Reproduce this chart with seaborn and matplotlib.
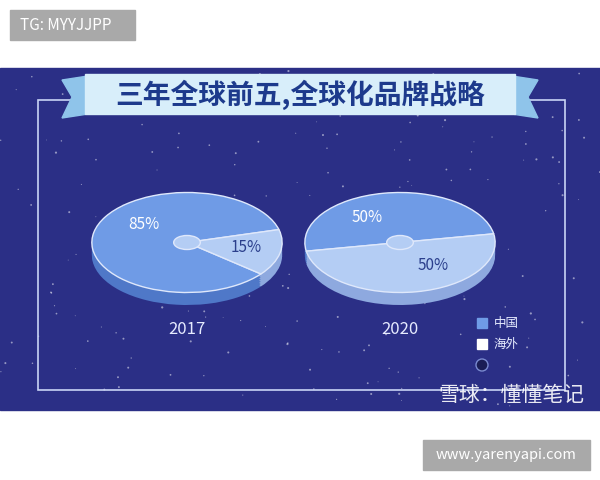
import numpy as np
import matplotlib
matplotlib.use("Agg")
import matplotlib.pyplot as plt
import seaborn as sns
from matplotlib.patches import Rectangle, Polygon, Ellipse

sns.set_theme(style="white")
plt.rcParams['font.family'] = ['Noto Sans CJK SC', 'DejaVu Sans']

# chart data
years = ['2017', '2020']
china_share = [85, 50]
overseas_share = [15, 50]
start_angles = [15, 10]
legend_labels = ['中国', '海外']
title = '三年全球前五,全球化品牌战略'

china_col = '#6f9be6'
overseas_col = '#b4cdf4'
bg_col = '#2b2f86'

fig = plt.figure(figsize=(6, 4.8), dpi=100)
bg = fig.add_axes([0, 0, 1, 1])
bg.set_xlim(0, 600)
bg.set_ylim(480, 0)
bg.axis('off')

# dark panel
bg.add_patch(Rectangle((0, 68), 600, 342, color=bg_col, zorder=0))
stars = np.random.default_rng(3)
sx = stars.uniform(0, 600, 220)
sy = stars.uniform(70, 408, 220)
bg.scatter(sx, sy, s=stars.uniform(0.3, 2.5, 220), color='white', alpha=0.5, lw=0, zorder=1)
# frame
bg.add_patch(Rectangle((38, 100), 527, 290, fill=False, ec='#c9d4f5', lw=1.2, zorder=2))
# title ribbon
bg.add_patch(Polygon([(62, 80), (88, 76), (88, 114), (62, 118), (72, 97)], color='#8fc4ea', zorder=3))
bg.add_patch(Polygon([(538, 80), (512, 76), (512, 114), (538, 118), (528, 97)], color='#8fc4ea', zorder=3))
bg.add_patch(Rectangle((85, 74), 430, 40, color='#d8eefa', zorder=4))
bg.text(300, 95, title, ha='center', va='center', fontsize=20, fontweight='bold',
        color='#1d3a8c', zorder=5)

# top-left / bottom-right tags
bg.add_patch(Rectangle((10, 10), 125, 30, color='#a9a9a9', zorder=3))
bg.text(20, 25, 'TG: MYYJJPP', ha='left', va='center', fontsize=11, color='white', zorder=4)
bg.add_patch(Rectangle((423, 440), 167, 30, color='#a9a9a9', zorder=3))
bg.text(506, 455, 'www.yarenyapi.com', ha='center', va='center', fontsize=10.5, color='white', zorder=4)

# year labels
for x, y in zip([187, 400], years):
    bg.text(x, 330, y, ha='center', va='center', fontsize=12, color='#e6ebff')

# legend
for i, (lab, c) in enumerate(zip(legend_labels, [china_col, 'white'])):
    yy = 323 + i * 21
    bg.add_patch(Rectangle((477, yy - 5), 10, 10, color=c, zorder=3))
    bg.text(494, yy, lab, ha='left', va='center', fontsize=9, color='#e6ebff')
bg.add_patch(Ellipse((482, 365), 12, 12, color='#1a1d55', ec='#7a8ad0', zorder=3))

# watermark
bg.text(585, 395, '雪球：懂懂笔记', ha='right', va='center', fontsize=15, color='white', alpha=0.9)

# pies
centers = [187, 400]
for cx, c, o, sa in zip(centers, china_share, overseas_share, start_angles):
    w, h = 196, 120
    ax = fig.add_axes([(cx - w / 2) / 600, (480 - 245 - h / 2 - 5) / 480, w / 600, h / 480])
    for dy in np.linspace(-0.25, 0, 8):
        ax.pie([c, o], colors=['#4f78c8', '#8ea9df'], startangle=sa, center=(0, dy),
               wedgeprops=dict(lw=0), frame=True)
    ax.pie([c, o], colors=[china_col, overseas_col], startangle=sa,
           wedgeprops=dict(lw=1, ec='#dfe8fb'), frame=True)
    ax.add_patch(Ellipse((0, 0), 0.28, 0.28, fc=overseas_col, ec='#dfe8fb', lw=1))
    ax.set_aspect('auto')
    ax.set_xlim(-1.03, 1.03)
    ax.set_ylim(-1.35, 1.05)
    ax.axis('off')
    if c == 85:
        ax.text(-0.45, 0.35, f'{c}%', ha='center', va='center', fontsize=11, color='white')
        ax.text(0.62, -0.1, f'{o}%', ha='center', va='center', fontsize=11, color='#2b3f8c')
    else:
        ax.text(-0.35, 0.5, f'{c}%', ha='center', va='center', fontsize=11, color='white')
        ax.text(0.35, -0.45, f'{o}%', ha='center', va='center', fontsize=11, color='#2b3f8c')

fig.savefig('out.png', dpi=100)
